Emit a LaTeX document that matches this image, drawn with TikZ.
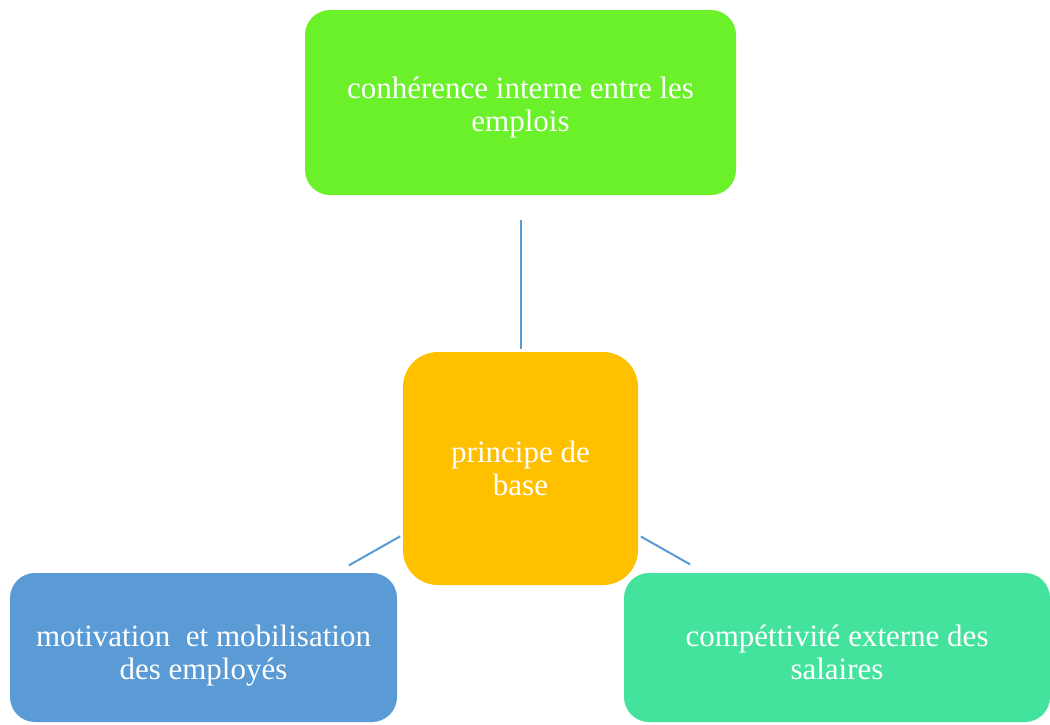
\documentclass[tikz,border=0pt]{standalone}
\usepackage{fontspec}
\setmainfont{Liberation Serif}
\definecolor{cohgreen}{HTML}{6BF12A}
\definecolor{baseorange}{HTML}{FFC000}
\definecolor{motivblue}{HTML}{5B9BD5}
\definecolor{compteal}{HTML}{44E39D}
\newcommand{\textdown}[1]{\rule{0pt}{#1}}
\begin{document}
\begin{tikzpicture}[x=1pt,y=-1pt,
    box/.style={rectangle, rounded corners=25pt, text=white, align=center,
      inner sep=0pt, font=\fontsize{31}{33}\selectfont},
    link/.style={draw=motivblue, line width=2pt}]
      \useasboundingbox (0,0) rectangle (1050,724);

      % BOXES
      % top
      \node[box, fill=cohgreen, minimum width=431pt, minimum height=185pt]
        (coh) at (520.5,102.5) {\textdown{31pt}conhérence interne entre les\\emplois};

      % centre
      \node[box, fill=baseorange, rounded corners=35pt,
        minimum width=235pt, minimum height=233pt]
        (base) at (520.5,468.5) {principe de\\base};

      % bottom left
      \node[box, fill=motivblue, minimum width=387pt, minimum height=149pt]
        (motiv) at (203.5,647.5) {\textdown{38pt}motivation~~et mobilisation\\des employés};

      % bottom right
      \node[box, fill=compteal, minimum width=426pt, minimum height=149pt]
        (comp) at (837,647.5) {\textdown{32pt}compéttivité externe des\\salaires};

      % LINKS
      \draw[link, shorten <=25pt, shorten >=3pt] (coh) -- (base);
      \draw[link, shorten <=3pt, shorten >=15pt] (base) -- (motiv);
      \draw[link, shorten <=3pt, shorten >=17pt] (base) -- (comp);
    \end{tikzpicture}
\end{document}
